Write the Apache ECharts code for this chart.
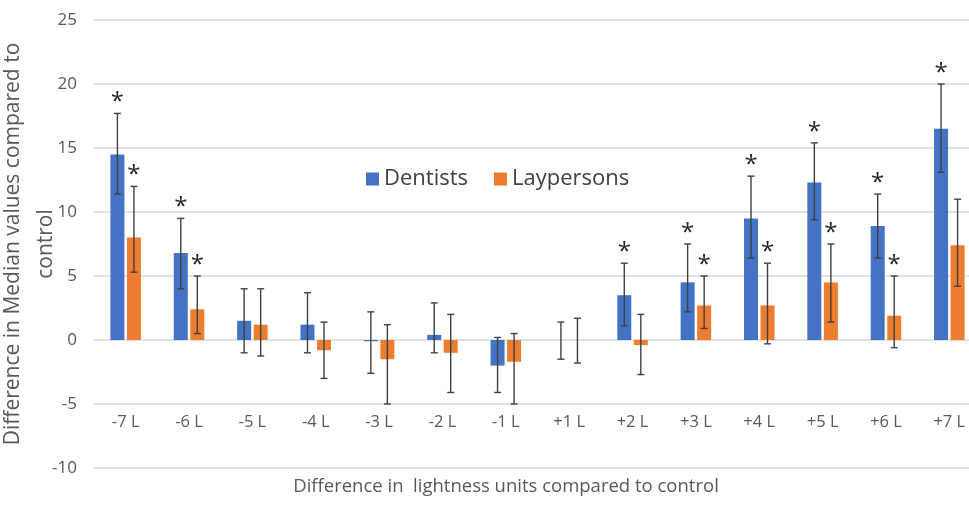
<!DOCTYPE html>
<html>
<head>
<meta charset="utf-8">
<script src="https://cdn.jsdelivr.net/npm/echarts@6/dist/echarts.min.js"></script>
<style>
  html, body { margin: 0; padding: 0; background: #fff; }
  #chart { width: 969px; height: 510px; }
</style>
</head>
<body>
<div id="chart"></div>
<script>
// Lightness steps relative to the control shade
const categories = ['-7 L', '-6 L', '-5 L', '-4 L', '-3 L', '-2 L', '-1 L', '+1 L', '+2 L', '+3 L', '+4 L', '+5 L', '+6 L', '+7 L'];

// Median differences with their error ranges
const dentists     = [14.5, 6.8, 1.5, 1.2, -0.1, 0.4, -2.0, 0, 3.5, 4.5, 9.5, 12.3, 8.9, 16.5];
const dentistsHigh = [17.7, 9.5, 4.0, 3.7, 2.2, 2.9, 0.2, 1.4, 6.0, 7.5, 12.8, 15.4, 11.4, 20.0];
const dentistsLow  = [11.4, 4.0, -1.0, -1.0, -2.6, -1.0, -4.1, -1.5, 1.1, 2.2, 6.4, 9.4, 6.4, 13.1];
const dentistsSig  = [1, 1, 0, 0, 0, 0, 0, 0, 1, 1, 1, 1, 1, 1];

const laypersons     = [8.0, 2.4, 1.2, -0.8, -1.5, -1.0, -1.7, 0, -0.4, 2.7, 2.7, 4.5, 1.9, 7.4];
const laypersonsHigh = [12.0, 5.0, 4.0, 1.4, 1.2, 2.0, 0.5, 1.7, 2.0, 5.0, 6.0, 7.5, 5.0, 11.0];
const laypersonsLow  = [5.3, 0.5, -1.25, -3.0, -5.0, -4.1, -5.0, -1.8, -2.7, 0.9, -0.3, 1.4, -0.6, 4.2];
const laypersonsSig  = [1, 1, 0, 0, 0, 0, 0, 0, 0, 1, 1, 1, 1, 0];

// Axis titles
const yTitleLines = ['Difference in Median values compared to', 'control'];
const xTitle = 'Difference in  lightness units compared to control';

const FONT = '"Open Sans", "Noto Sans", sans-serif';
const BAR_W = 14;
const BAR_GAP = 0.18;
const HALF_STEP = (BAR_W + BAR_W * BAR_GAP) / 2;

function errorRows(low, high, sig) {
  return low.map((lo, i) => [i, lo, high[i], sig[i]]);
}

// Whiskers with caps, plus a significance star over the upper cap
function errorRenderer(offset) {
  return function (params, api) {
    const idx = api.value(0);
    const lo = api.coord([idx, api.value(1)]);
    const hi = api.coord([idx, api.value(2)]);
    const x = lo[0] + offset;
    const cap = 3.5;
    const style = { stroke: '#404040', lineWidth: 1.4 };
    const children = [
      { type: 'line', shape: { x1: x, y1: lo[1], x2: x, y2: hi[1] }, style },
      { type: 'line', shape: { x1: x - cap, y1: hi[1], x2: x + cap, y2: hi[1] }, style },
      { type: 'line', shape: { x1: x - cap, y1: lo[1], x2: x + cap, y2: lo[1] }, style }
    ];
    if (api.value(3)) {
      children.push({
        type: 'text',
        style: {
          text: '*', x: x, y: hi[1] + 1,
          fill: '#262626', fontSize: 24, fontFamily: FONT,
          align: 'center', verticalAlign: 'bottom'
        }
      });
    }
    return { type: 'group', children };
  };
}

const titleStyle = { fill: '#595959', fontFamily: FONT, align: 'center', verticalAlign: 'middle' };

const chart = echarts.init(document.getElementById('chart'), null, { renderer: 'canvas' });

chart.setOption({
  backgroundColor: '#ffffff',
  animation: false,
  grid: { left: 94, width: 887, top: 20, bottom: 42, containLabel: false, outerBoundsMode: 'none' },
  legend: {
    data: ['Dentists', 'Laypersons'],
    left: 366, top: 165, padding: 0,
    icon: 'rect', itemWidth: 13, itemHeight: 13, itemGap: 26,
    textStyle: { fontSize: 22, color: '#404040', fontFamily: FONT, lineHeight: 28 }
  },
  xAxis: {
    type: 'category',
    data: categories,
    position: 'bottom',
    offset: -64,
    axisLine: { show: false },
    axisTick: { show: false },
    axisLabel: { fontSize: 16.5, color: '#595959', fontFamily: FONT, margin: 10 }
  },
  yAxis: {
    type: 'value',
    min: -10, max: 25, interval: 5,
    axisLine: { show: false },
    axisTick: { show: false },
    axisLabel: { fontSize: 17, color: '#595959', fontFamily: FONT, margin: 17 },
    splitLine: { lineStyle: { color: '#d9d9d9', width: 1.5 } }
  },
  graphic: [
    {
      type: 'text', x: 13, y: 244, rotation: Math.PI / 2,
      style: Object.assign({ text: yTitleLines[0], fontSize: 21 }, titleStyle)
    },
    {
      type: 'text', x: 46, y: 244, rotation: Math.PI / 2,
      style: Object.assign({ text: yTitleLines[1], fontSize: 21 }, titleStyle)
    },
    {
      type: 'text', x: 506, y: 487,
      style: Object.assign({ text: xTitle, fontSize: 18.5 }, titleStyle)
    }
  ],
  series: [
    {
      name: 'Dentists', type: 'bar', data: dentists,
      barWidth: BAR_W, barGap: (BAR_GAP * 100) + '%',
      itemStyle: { color: '#4472C4' }
    },
    {
      name: 'Laypersons', type: 'bar', data: laypersons,
      barWidth: BAR_W, barGap: (BAR_GAP * 100) + '%',
      itemStyle: { color: '#ED7D31' }
    },
    {
      name: 'Dentists range', type: 'custom', z: 5,
      renderItem: errorRenderer(-HALF_STEP),
      encode: { x: 0, y: [1, 2] },
      data: errorRows(dentistsLow, dentistsHigh, dentistsSig)
    },
    {
      name: 'Laypersons range', type: 'custom', z: 5,
      renderItem: errorRenderer(HALF_STEP),
      encode: { x: 0, y: [1, 2] },
      data: errorRows(laypersonsLow, laypersonsHigh, laypersonsSig)
    }
  ]
});
</script>
</body>
</html>
